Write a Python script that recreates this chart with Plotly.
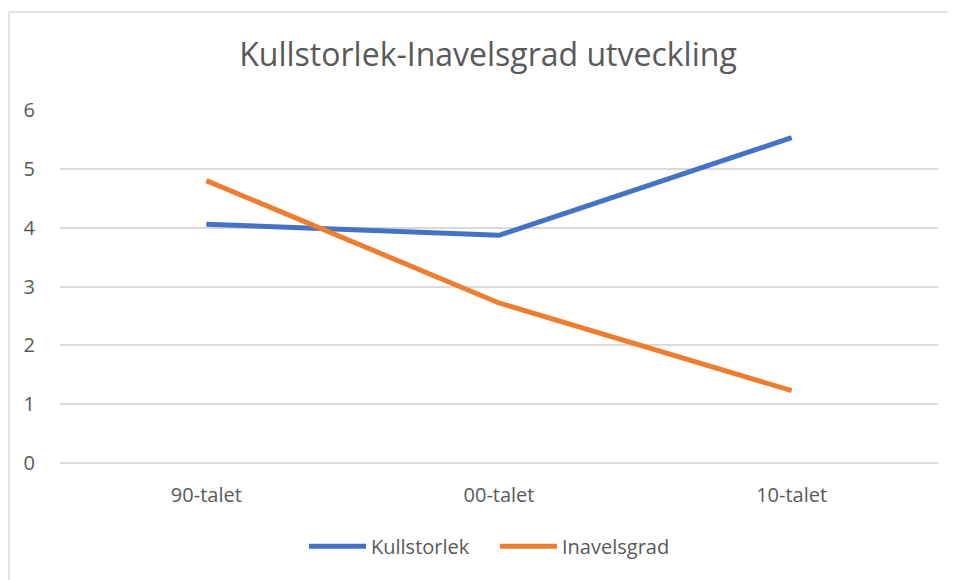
import plotly.graph_objects as go

categories = ["90-talet", "00-talet", "10-talet"]
kullstorlek = [4.06, 3.87, 5.53]
inavelsgrad = [4.80, 2.72, 1.23]
y_ticks = [0, 1, 2, 3, 4, 5, 6]

FONT = "Open Sans, Noto Sans, sans-serif"
TXT = "#595959"
GRID = "#d9d9d9"

fig = go.Figure()
fig.add_trace(go.Scatter(x=categories, y=kullstorlek, mode="lines", name="Kullstorlek",
                         line=dict(color="#4472C4", width=5)))
fig.add_trace(go.Scatter(x=categories, y=inavelsgrad, mode="lines", name="Inavelsgrad",
                         line=dict(color="#ED7D31", width=5)))

W, H = 948, 572
L, T, R, B = 52, 101.7, 18, 116.5
ph = H - T - B
pw = W - L - R

bx = (1 - L) / pw
by = (H - B - 3.5) / ph

fig.update_layout(
    width=W, height=H,
    margin=dict(l=L, r=R, t=T, b=B),
    paper_bgcolor="white", plot_bgcolor="white",
    font=dict(family=FONT, color=TXT, size=20),
    title=dict(text="Kullstorlek-Inavelsgrad utveckling", x=480 / W, xanchor="center",
               y=1 - 47 / H, yanchor="middle",
               font=dict(size=32, color=TXT, family=FONT)),
    showlegend=True,
    legend=dict(orientation="h", x=(296 - L) / pw, xanchor="left", y=-0.236, yanchor="middle",
                font=dict(size=20, color=TXT), itemwidth=57,
                entrywidth=119, entrywidthmode="pixels"),
    xaxis=dict(type="category", range=[-0.5, 2.5], showgrid=False, zeroline=False,
               showline=False, ticks="", ticklabelstandoff=18,
               tickfont=dict(size=20, color=TXT)),
    yaxis=dict(range=[0, 6], tickvals=y_ticks, showgrid=True, gridcolor=GRID,
               gridwidth=1.5, zeroline=True, zerolinecolor=GRID, zerolinewidth=1.5,
               showline=False, ticks="",
               ticklabelstandoff=24, tickfont=dict(size=20, color=TXT)),
    shapes=[
        dict(type="line", xref="paper", yref="paper", x0=bx, x1=1.2, y0=by, y1=by,
             line=dict(color=GRID, width=1.5), layer="below"),
        dict(type="line", xref="paper", yref="paper", x0=bx, x1=bx, y0=-0.5, y1=by,
             line=dict(color=GRID, width=1.5), layer="below"),
    ],
)

fig.write_html("out.html", config={"displayModeBar": False})
